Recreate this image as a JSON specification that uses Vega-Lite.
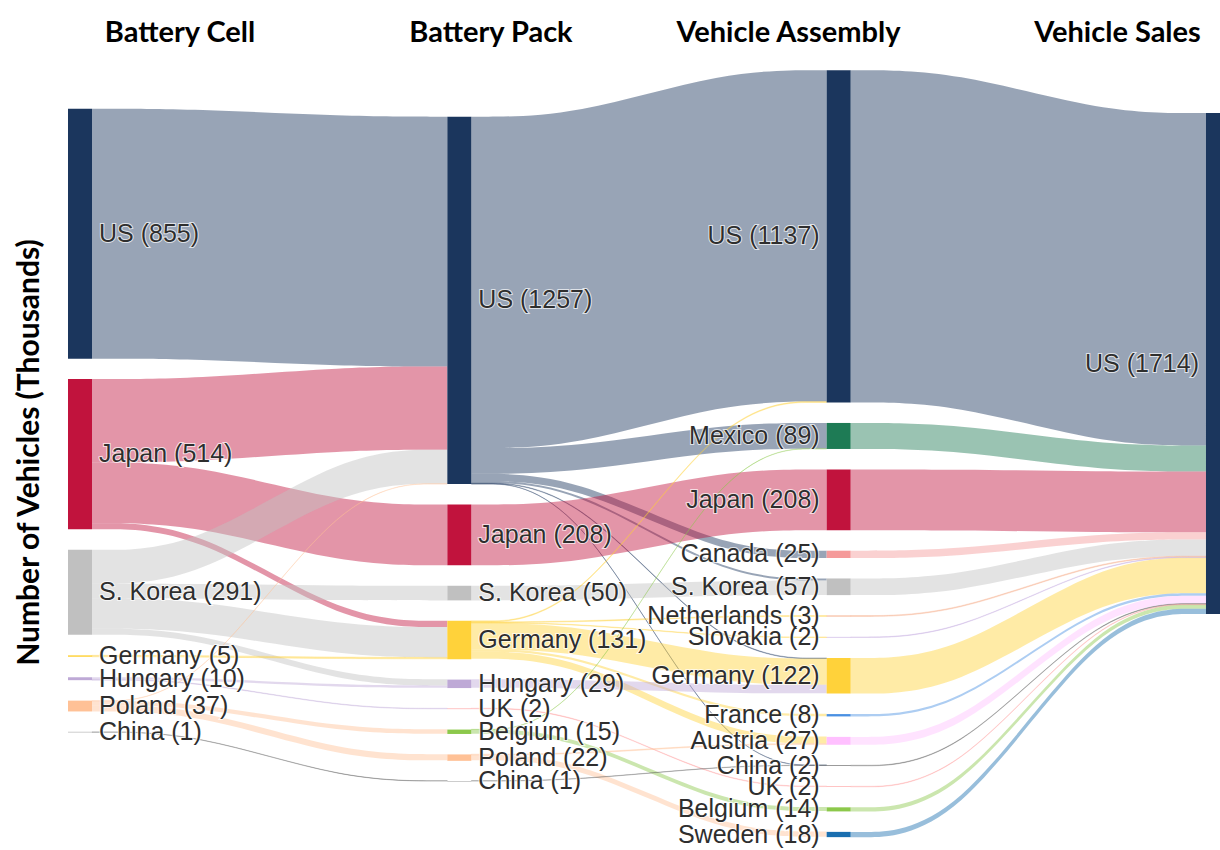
{
  "$schema": "https://vega.github.io/schema/vega-lite/v6.json",
  "width": 1220,
  "height": 850,
  "autosize": {"type": "none"},
  "padding": 0,
  "background": "white",
  "config": {
    "view": {"stroke": null},
    "axisY": {"domain": false, "ticks": false, "labels": false, "grid": false, "titleAngle": -90, "titleX": 29, "titleY": 452, "titleAlign": "center", "titleBaseline": "middle", "titleFont": "Lato", "titleFontSize": 30, "titleFontWeight": "bold", "titleColor": "#000000"}
  },
  "datasets": {
    "stages": [
      {"stage": 0, "name": "Battery Cell", "top": 372, "tx": 0.2953},
      {"stage": 1, "name": "Battery Pack", "top": 399, "tx": 1.1151},
      {"stage": 2, "name": "Vehicle Assembly", "top": 240, "tx": 1.8994},
      {"stage": 3, "name": "Vehicle Sales", "top": 387, "tx": 2.7667}
    ],
    "nodes": [
      {"id": "0|US", "stage": 0, "country": "US", "value": 855, "rank": 0},
      {"id": "0|Japan", "stage": 0, "country": "Japan", "value": 514, "rank": 1},
      {"id": "0|S. Korea", "stage": 0, "country": "S. Korea", "value": 291, "rank": 2},
      {"id": "0|Germany", "stage": 0, "country": "Germany", "value": 5, "rank": 3},
      {"id": "0|Hungary", "stage": 0, "country": "Hungary", "value": 10, "rank": 4},
      {"id": "0|Poland", "stage": 0, "country": "Poland", "value": 37, "rank": 5},
      {"id": "0|China", "stage": 0, "country": "China", "value": 1, "rank": 6},
      {"id": "1|US", "stage": 1, "country": "US", "value": 1257, "rank": 0},
      {"id": "1|Japan", "stage": 1, "country": "Japan", "value": 208, "rank": 1},
      {"id": "1|S. Korea", "stage": 1, "country": "S. Korea", "value": 50, "rank": 2},
      {"id": "1|Germany", "stage": 1, "country": "Germany", "value": 131, "rank": 3},
      {"id": "1|Hungary", "stage": 1, "country": "Hungary", "value": 29, "rank": 4},
      {"id": "1|UK", "stage": 1, "country": "UK", "value": 2, "rank": 5},
      {"id": "1|Belgium", "stage": 1, "country": "Belgium", "value": 15, "rank": 6},
      {"id": "1|Poland", "stage": 1, "country": "Poland", "value": 22, "rank": 7},
      {"id": "1|China", "stage": 1, "country": "China", "value": 1, "rank": 8},
      {"id": "2|US", "stage": 2, "country": "US", "value": 1137, "rank": 0},
      {"id": "2|Mexico", "stage": 2, "country": "Mexico", "value": 89, "rank": 1},
      {"id": "2|Japan", "stage": 2, "country": "Japan", "value": 208, "rank": 2},
      {"id": "2|Canada", "stage": 2, "country": "Canada", "value": 25, "rank": 3},
      {"id": "2|S. Korea", "stage": 2, "country": "S. Korea", "value": 57, "rank": 4},
      {"id": "2|Netherlands", "stage": 2, "country": "Netherlands", "value": 3, "rank": 5},
      {"id": "2|Slovakia", "stage": 2, "country": "Slovakia", "value": 2, "rank": 6},
      {"id": "2|Germany", "stage": 2, "country": "Germany", "value": 122, "rank": 7},
      {"id": "2|France", "stage": 2, "country": "France", "value": 8, "rank": 8},
      {"id": "2|Austria", "stage": 2, "country": "Austria", "value": 27, "rank": 9},
      {"id": "2|China", "stage": 2, "country": "China", "value": 2, "rank": 10},
      {"id": "2|UK", "stage": 2, "country": "UK", "value": 2, "rank": 11},
      {"id": "2|Belgium", "stage": 2, "country": "Belgium", "value": 14, "rank": 12},
      {"id": "2|Sweden", "stage": 2, "country": "Sweden", "value": 18, "rank": 13},
      {"id": "3|US", "stage": 3, "country": "US", "value": 1714, "rank": 0}
    ],
    "links": [
      {"s": 0, "src": "US", "tgt": "US", "value": 855},
      {"s": 0, "src": "Japan", "tgt": "US", "value": 285},
      {"s": 0, "src": "Japan", "tgt": "Japan", "value": 208},
      {"s": 0, "src": "Japan", "tgt": "Germany", "value": 21},
      {"s": 0, "src": "S. Korea", "tgt": "US", "value": 116},
      {"s": 0, "src": "S. Korea", "tgt": "S. Korea", "value": 50},
      {"s": 0, "src": "S. Korea", "tgt": "Germany", "value": 104},
      {"s": 0, "src": "S. Korea", "tgt": "Hungary", "value": 21},
      {"s": 0, "src": "Germany", "tgt": "Germany", "value": 5},
      {"s": 0, "src": "Hungary", "tgt": "Hungary", "value": 8},
      {"s": 0, "src": "Hungary", "tgt": "UK", "value": 2},
      {"s": 0, "src": "Poland", "tgt": "US", "value": 1},
      {"s": 0, "src": "Poland", "tgt": "Belgium", "value": 15},
      {"s": 0, "src": "Poland", "tgt": "Poland", "value": 21},
      {"s": 0, "src": "China", "tgt": "China", "value": 1},
      {"s": 1, "src": "US", "tgt": "US", "value": 1134},
      {"s": 1, "src": "US", "tgt": "Mexico", "value": 88},
      {"s": 1, "src": "US", "tgt": "Canada", "value": 25},
      {"s": 1, "src": "US", "tgt": "S. Korea", "value": 7},
      {"s": 1, "src": "US", "tgt": "Germany", "value": 2},
      {"s": 1, "src": "US", "tgt": "China", "value": 1},
      {"s": 1, "src": "Japan", "tgt": "Japan", "value": 208},
      {"s": 1, "src": "S. Korea", "tgt": "S. Korea", "value": 50},
      {"s": 1, "src": "Germany", "tgt": "US", "value": 3},
      {"s": 1, "src": "Germany", "tgt": "Netherlands", "value": 3},
      {"s": 1, "src": "Germany", "tgt": "Slovakia", "value": 2},
      {"s": 1, "src": "Germany", "tgt": "Germany", "value": 90},
      {"s": 1, "src": "Germany", "tgt": "France", "value": 8},
      {"s": 1, "src": "Germany", "tgt": "Austria", "value": 24},
      {"s": 1, "src": "Hungary", "tgt": "Germany", "value": 29},
      {"s": 1, "src": "UK", "tgt": "UK", "value": 2},
      {"s": 1, "src": "Belgium", "tgt": "Mexico", "value": 1},
      {"s": 1, "src": "Belgium", "tgt": "Belgium", "value": 14},
      {"s": 1, "src": "Poland", "tgt": "Austria", "value": 3},
      {"s": 1, "src": "Poland", "tgt": "Sweden", "value": 18},
      {"s": 1, "src": "China", "tgt": "China", "value": 1},
      {"s": 2, "src": "US", "tgt": "US", "value": 1137},
      {"s": 2, "src": "Mexico", "tgt": "US", "value": 89},
      {"s": 2, "src": "Japan", "tgt": "US", "value": 208},
      {"s": 2, "src": "Canada", "tgt": "US", "value": 25},
      {"s": 2, "src": "S. Korea", "tgt": "US", "value": 57},
      {"s": 2, "src": "Netherlands", "tgt": "US", "value": 3},
      {"s": 2, "src": "Slovakia", "tgt": "US", "value": 2},
      {"s": 2, "src": "Germany", "tgt": "US", "value": 122},
      {"s": 2, "src": "France", "tgt": "US", "value": 8},
      {"s": 2, "src": "Austria", "tgt": "US", "value": 27},
      {"s": 2, "src": "China", "tgt": "US", "value": 2},
      {"s": 2, "src": "UK", "tgt": "US", "value": 2},
      {"s": 2, "src": "Belgium", "tgt": "US", "value": 14},
      {"s": 2, "src": "Sweden", "tgt": "US", "value": 18}
    ]
  },
  "layer": [
    {
      "data": {"name": "links"},
      "transform": [
        {"calculate": "datum.s + 1", "as": "t"},
        {"calculate": "datum.s + '|' + datum.src", "as": "sid"},
        {"calculate": "datum.t + '|' + datum.tgt", "as": "tid"},
        {"lookup": "sid", "from": {"data": {"name": "nodes"}, "key": "id", "fields": ["rank"]}, "as": ["srank"]},
        {"lookup": "tid", "from": {"data": {"name": "nodes"}, "key": "id", "fields": ["rank"]}, "as": ["trank"]},
        {"lookup": "s", "from": {"data": {"name": "stages"}, "key": "stage", "fields": ["top"]}, "as": ["stop"]},
        {"lookup": "t", "from": {"data": {"name": "stages"}, "key": "stage", "fields": ["top"]}, "as": ["ttop"]},
        {"window": [{"op": "sum", "field": "value", "as": "scum"}], "groupby": ["s"], "sort": [{"field": "srank"}, {"field": "trank"}], "frame": [null, 0]},
        {"window": [{"op": "sum", "field": "value", "as": "tcum"}], "groupby": ["s"], "sort": [{"field": "trank"}, {"field": "srank"}], "frame": [null, 0]},
        {"calculate": "datum.stop + 70 * datum.srank + datum.scum - datum.value", "as": "sy0"},
        {"calculate": "datum.ttop + 70 * datum.trank + datum.tcum - datum.value", "as": "ty0"},
        {"calculate": "datum.s + '|' + datum.src + '|' + datum.tgt", "as": "lid"},
        {"calculate": "0", "as": "c0"},
        {"calculate": "1", "as": "c1"},
        {"calculate": "2", "as": "c2"},
        {"calculate": "3", "as": "c3"},
        {"fold": ["c0", "c1", "c2", "c3"], "as": ["pk", "p"]},
        {"calculate": "datum.p < 2 ? datum.sy0 : datum.ty0", "as": "ya"},
        {"calculate": "datum.ya + datum.value", "as": "yb"},
        {"calculate": "datum.s + 0.06327 + [0, 0.29, 0.71, 1][datum.p] * (1 - 0.06327)", "as": "px"}
      ],
      "mark": {"type": "area", "interpolate": "basis", "fillOpacity": 0.45, "strokeOpacity": 0.4},
      "encoding": {
        "x": {"field": "px", "type": "quantitative", "scale": {"domain": [-0.17926, 3.03696], "nice": false, "zero": false}, "axis": null},
        "y": {"field": "ya", "type": "quantitative", "stack": null, "scale": {"domain": [0, 2908], "reverse": true, "nice": false, "zero": false}, "axis": {"title": "Number of Vehicles (Thousands)"}},
        "y2": {"field": "yb"},
        "detail": {"field": "lid", "type": "nominal"},
        "color": {"field": "src", "type": "nominal", "legend": null, "scale": {"domain": ["US", "Japan", "S. Korea", "Germany", "Hungary", "Poland", "China", "UK", "Belgium", "Mexico", "Canada", "Netherlands", "Slovakia", "France", "Austria", "Sweden"], "range": ["#1B365D", "#C1133D", "#C0C0C0", "#FFD23A", "#BEA9D6", "#FFC196", "#555555", "#FF9A9A", "#8CC84B", "#1E7B55", "#F59A9A", "#F4A27A", "#C3A8E0", "#4A90E2", "#FFC0FF", "#1A6FB0"]}},
        "stroke": {"field": "src", "type": "nominal", "legend": null, "scale": {"domain": ["US", "Japan", "S. Korea", "Germany", "Hungary", "Poland", "China", "UK", "Belgium", "Mexico", "Canada", "Netherlands", "Slovakia", "France", "Austria", "Sweden"], "range": ["#1B365D", "#C1133D", "#C0C0C0", "#FFD23A", "#BEA9D6", "#FFC196", "#555555", "#FF9A9A", "#8CC84B", "#1E7B55", "#F59A9A", "#F4A27A", "#C3A8E0", "#4A90E2", "#FFC0FF", "#1A6FB0"]}},
        "strokeWidth": {"condition": {"test": "datum.value < 6", "value": 0.7}, "value": 0}
      }
    },
    {
      "data": {"name": "nodes"},
      "transform": [
        {"lookup": "stage", "from": {"data": {"name": "stages"}, "key": "stage", "fields": ["top"]}},
        {"window": [{"op": "sum", "field": "value", "as": "cum"}], "groupby": ["stage"], "sort": [{"field": "rank"}], "frame": [null, 0]},
        {"calculate": "datum.top + 70 * datum.rank + datum.cum - datum.value", "as": "y0"},
        {"calculate": "datum.y0 + datum.value", "as": "y1"},
        {"calculate": "(datum.y0 + datum.y1) / 2", "as": "ym"},
        {"calculate": "datum.stage + 0.06327", "as": "xe"},
        {"calculate": "datum.country + ' (' + datum.value + ')'", "as": "label"}
      ],
      "layer": [
        {
          "mark": {"type": "rect", "clip": true},
          "encoding": {
            "x": {"field": "stage", "type": "quantitative", "scale": {"domain": [-0.17926, 3.03696], "nice": false, "zero": false}, "axis": null},
            "x2": {"field": "xe"},
            "y": {"field": "y0", "type": "quantitative", "scale": {"domain": [0, 2908], "reverse": true, "nice": false, "zero": false}, "axis": {"title": "Number of Vehicles (Thousands)"}},
            "y2": {"field": "y1"},
            "color": {"field": "country", "type": "nominal", "legend": null, "scale": {"domain": ["US", "Japan", "S. Korea", "Germany", "Hungary", "Poland", "China", "UK", "Belgium", "Mexico", "Canada", "Netherlands", "Slovakia", "France", "Austria", "Sweden"], "range": ["#1B365D", "#C1133D", "#C0C0C0", "#FFD23A", "#BEA9D6", "#FFC196", "#555555", "#FF9A9A", "#8CC84B", "#1E7B55", "#F59A9A", "#F4A27A", "#C3A8E0", "#4A90E2", "#FFC0FF", "#1A6FB0"]}}
          }
        },
        {
          "transform": [{"filter": "datum.stage < 2"}],
          "layer": [
            {"mark": {"type": "text", "align": "left", "baseline": "middle", "dx": 7, "font": "Liberation Sans", "fontSize": 25, "fill": "white", "stroke": "white", "strokeWidth": 2, "strokeOpacity": 0.7}},
            {"mark": {"type": "text", "align": "left", "baseline": "middle", "dx": 7, "font": "Liberation Sans", "fontSize": 25, "fill": "#2e2e2e"}}
          ],
          "encoding": {
            "x": {"field": "xe", "type": "quantitative", "scale": {"domain": [-0.17926, 3.03696], "nice": false, "zero": false}, "axis": null},
            "y": {"field": "ym", "type": "quantitative", "scale": {"domain": [0, 2908], "reverse": true, "nice": false, "zero": false}, "axis": {"title": "Number of Vehicles (Thousands)"}},
            "text": {"field": "label"}
          }
        },
        {
          "transform": [{"filter": "datum.stage >= 2"}],
          "layer": [
            {"mark": {"type": "text", "align": "right", "baseline": "middle", "dx": -7, "font": "Liberation Sans", "fontSize": 25, "fill": "white", "stroke": "white", "strokeWidth": 2, "strokeOpacity": 0.7}},
            {"mark": {"type": "text", "align": "right", "baseline": "middle", "dx": -7, "font": "Liberation Sans", "fontSize": 25, "fill": "#2e2e2e"}}
          ],
          "encoding": {
            "x": {"field": "stage", "type": "quantitative", "scale": {"domain": [-0.17926, 3.03696], "nice": false, "zero": false}, "axis": null},
            "y": {"field": "ym", "type": "quantitative", "scale": {"domain": [0, 2908], "reverse": true, "nice": false, "zero": false}, "axis": {"title": "Number of Vehicles (Thousands)"}},
            "text": {"field": "label"}
          }
        }
      ]
    },
    {
      "data": {"name": "stages"},
      "mark": {"type": "text", "align": "center", "baseline": "alphabetic", "font": "Lato", "fontWeight": "bold", "fontSize": 29, "fill": "#000000"},
      "encoding": {
        "x": {"field": "tx", "type": "quantitative", "scale": {"domain": [-0.17926, 3.03696], "nice": false, "zero": false}, "axis": null},
        "y": {"datum": 144, "type": "quantitative", "scale": {"domain": [0, 2908], "reverse": true, "nice": false, "zero": false}, "axis": {"title": "Number of Vehicles (Thousands)"}},
        "text": {"field": "name"}
      }
    }
  ]
}
